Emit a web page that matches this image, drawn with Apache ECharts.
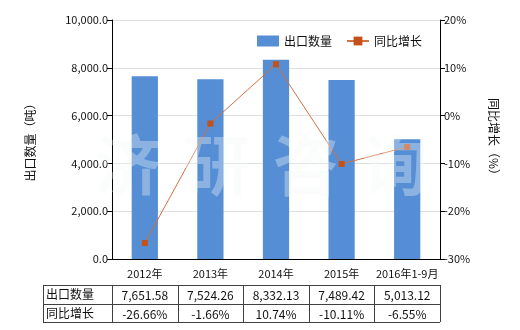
<!DOCTYPE html>
<html><head><meta charset="utf-8">
<script src="https://cdn.jsdelivr.net/npm/echarts@6/dist/echarts.min.js"></script>
<style>html,body{margin:0;padding:0;background:#fff}#c{width:520px;height:330px}</style>
</head><body><div id="c"></div>
<script>
const categories = ['2012年','2013年','2014年','2015年','2016年1-9月'];
const exportQty = [7651.58, 7524.26, 8332.13, 7489.42, 5013.12];
const yoyGrowth = [-26.66, -1.66, 10.74, -10.11, -6.55];
const rowLabels = ['出口数量','同比增长'];
const seriesNames = ['出口数量','同比增长'];

const FONT = '"Noto Sans CJK SC", "Noto Sans", sans-serif';
const G = {left:112, right:440, top:20, bottom:259};
const chart = echarts.init(document.getElementById('c'));

function fmtNum(v, d){ return v.toLocaleString('en-US',{minimumFractionDigits:d, maximumFractionDigits:d}); }

const tbl = {x0:43, y0:285, y1:304, y2:322};
const colW = (G.right - G.left)/categories.length;
const graphics = [];
const lineStyle = {stroke:'#404040', lineWidth:1};
[tbl.y0, tbl.y1, tbl.y2].forEach(y=>graphics.push({type:'line', shape:{x1:tbl.x0,y1:y+0.5,x2:G.right,y2:y+0.5}, style:lineStyle, silent:true}));
graphics.push({type:'line', shape:{x1:tbl.x0+0.5,y1:tbl.y0,x2:tbl.x0+0.5,y2:tbl.y2}, style:lineStyle});
for(let i=0;i<=categories.length;i++){
  const x = Math.round(G.left + i*colW)+0.5;
  graphics.push({type:'line', shape:{x1:x,y1:tbl.y0,x2:x,y2:tbl.y2}, style:lineStyle});
}
rowLabels.forEach((t,r)=>{
  const yc = r===0 ? (tbl.y0+tbl.y1)/2 : (tbl.y1+tbl.y2)/2;
  graphics.push({type:'text', x:tbl.x0+3, y:yc, style:{text:t, font:'12px '+FONT, fill:'#111', textVerticalAlign:'middle'}});
  categories.forEach((c,i)=>{
    const txt = r===0 ? fmtNum(exportQty[i],2) : yoyGrowth[i].toFixed(2)+'%';
    graphics.push({type:'text', x:G.left+(i+0.5)*colW, y:yc+1, style:{text:txt, font:'12px '+FONT, fill:'#111', textAlign:'center', textVerticalAlign:'middle'}});
  });
});
// watermark
['济','研','咨','询'].forEach((ch,i)=>{
  graphics.push({type:'text', x:128+i*89, y:165, z:100, silent:true, style:{text:ch, font:'bold 66px '+FONT, fill:'rgba(244,249,249,0.34)', textAlign:'center', textVerticalAlign:'middle'}});
});

chart.setOption({
  animation:false,
  textStyle:{fontFamily:FONT},
  legend:{
    left:252, top:30, itemGap:14, itemWidth:22, itemHeight:11,
    textStyle:{fontSize:12, color:'#111', fontFamily:FONT},
    data:[{name:seriesNames[0], icon:'rect'}, {name:seriesNames[1]}]
  },
  grid:{left:G.left, right:520-G.right, top:G.top, bottom:330-G.bottom, containLabel:false},
  xAxis:{
    type:'category', data:categories,
    axisLine:{lineStyle:{color:'#000', width:1}},
    axisTick:{show:false},
    axisLabel:{color:'#111', fontSize:11, margin:9, interval:0, fontFamily:FONT}
  },
  yAxis:[{
    type:'value', min:0, max:10000, interval:2000,
    name:'出口数量（吨）', nameLocation:'middle', nameGap:76, nameRotate:90,
    nameTextStyle:{fontSize:12, color:'#111', fontFamily:FONT},
    axisLine:{show:true, lineStyle:{color:'#000', width:1}},
    axisTick:{show:true, length:5, lineStyle:{color:'#000'}},
    axisLabel:{color:'#111', fontSize:11, margin:4, formatter:v=>fmtNum(v,1)},
    splitLine:{show:true, lineStyle:{color:'#e0e0e0'}}
  },{
    type:'value', min:-30, max:20, interval:10, position:'right',
    name:'同比增长（%）', nameLocation:'middle', nameGap:48, nameRotate:-90,
    nameTextStyle:{fontSize:12, color:'#111', fontFamily:FONT},
    axisLine:{show:true, lineStyle:{color:'#000', width:1}},
    axisTick:{show:true, length:5, lineStyle:{color:'#000'}},
    axisLabel:{color:'#111', fontSize:11, margin:4, formatter:v=>v+'%'},
    splitLine:{show:false}
  }],
  series:[{
    name:seriesNames[0], type:'bar', data:exportQty, barWidth:'40%',
    itemStyle:{color:'#558ed5'}
  },{
    name:seriesNames[1], type:'line', yAxisIndex:1, data:yoyGrowth,
    symbol:'rect', symbolSize:6,
    lineStyle:{color:'#d2703f', width:1},
    itemStyle:{color:'#c4501a'}
  }],
  graphic:graphics
});
</script></body></html>
